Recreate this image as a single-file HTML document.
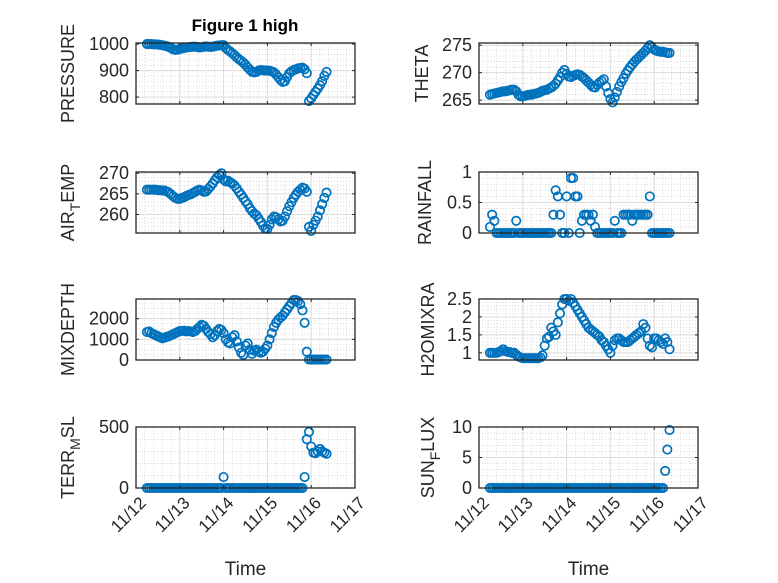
<!DOCTYPE html>
<html><head><meta charset="utf-8"><style>
html,body{margin:0;padding:0;background:#fff;}
svg{display:block;font-family:"Liberation Sans",sans-serif;}
</style></head><body>
<svg id="fig" width="778" height="583" viewBox="0 0 778 583" xmlns="http://www.w3.org/2000/svg">
<rect width="778" height="583" fill="#fff"/>
<text x="245" y="31" text-anchor="middle" font-size="17" font-weight="bold" fill="#000">Figure 1 high</text>
</svg>
<script>
const times=[12.25,12.30,12.35,12.40,12.45,12.50,12.55,12.60,12.65,12.70,12.75,12.80,12.85,12.90,12.95,13.00,13.05,13.10,13.15,13.20,13.25,13.30,13.35,13.40,13.45,13.50,13.55,13.60,13.65,13.70,13.75,13.80,13.85,13.90,13.95,14.00,14.05,14.10,14.15,14.20,14.25,14.30,14.35,14.40,14.45,14.50,14.55,14.60,14.65,14.70,14.75,14.80,14.85,14.90,14.95,15.00,15.05,15.10,15.15,15.20,15.25,15.30,15.35,15.40,15.45,15.50,15.55,15.60,15.65,15.70,15.75,15.80,15.85,15.90,15.95,16.00,16.05,16.10,16.15,16.20,16.25,16.30,16.35];
const pressure=[1000,1000,1000,999,999,998,997,996,994,992,989,985,980,978,979,981,983,985,987,988,989,990,990,989,987,988,990,991,990,989,990,992,994,995,996,996,985,978,972,965,958,950,943,937,930,922,912,903,895,893,895,900,902,901,900,900,899,897,893,885,875,865,857,860,875,890,897,902,905,908,910,911,905,890,785,795,808,820,832,845,860,880,895];
const theta=[266.0,266.1,266.2,266.3,266.4,266.5,266.6,266.6,266.7,266.8,266.9,266.9,266.6,266.0,265.7,265.7,265.8,265.9,266.0,266.0,266.1,266.2,266.3,266.5,266.7,266.8,266.9,267.1,267.3,267.6,268.0,268.6,269.2,270.0,270.5,269.8,269.3,269.2,269.4,269.6,269.7,269.6,269.3,269.0,268.6,268.2,267.8,267.4,267.3,267.8,268.2,268.5,268.8,267.5,266.3,265.2,264.6,265.5,266.5,267.5,268.3,269.0,269.8,270.4,271.0,271.5,272.0,272.4,272.8,273.2,273.6,274.0,274.5,275.0,274.6,274.2,274.0,273.9,273.8,273.8,273.7,273.6,273.6];
const airTemp=[266.0,266.0,266.0,266.0,266.0,265.9,265.9,265.8,265.8,265.6,265.3,264.9,264.4,264.0,263.8,263.8,264.0,264.2,264.5,264.7,264.9,265.2,265.5,265.8,266.0,265.8,265.5,265.6,266.2,266.8,267.5,268.3,269.0,269.6,270.0,268.5,268.0,268.2,267.8,267.5,267.0,266.3,265.5,264.8,264.0,263.2,262.5,261.5,260.8,260.2,259.8,259.0,258.2,257.3,256.6,256.5,257.5,258.8,259.5,259.3,258.8,258.3,258.5,259.5,260.8,262.0,263.0,264.0,264.8,265.5,266.0,266.5,266.3,265.5,257.0,256.0,257.5,258.5,259.5,261.0,262.5,264.0,265.3];
const rainfall=[0.1,0.3,0.2,0,0,0,0,0,0,0,0,0,0.2,0,0,0,0,0,0,0,0,0,0,0,0,0,0,0,0,0.3,0.7,0.6,0.3,0,0,0.6,0,0.9,0.9,0.6,0.6,0,0.2,0.3,0.3,0.3,0.2,0.3,0.1,0,0,0,0,0,0,0,0,0.2,0,0,0,0.3,0.3,0.3,0.3,0.2,0.3,0.3,0.3,0.3,0.3,0.3,0.3,0.6,0,0,0,0,0,0,0,0,0];
const mixDepth=[1350,1380,1300,1250,1200,1150,1100,1050,1080,1120,1150,1200,1250,1300,1350,1400,1400,1420,1380,1400,1380,1350,1400,1500,1600,1700,1650,1500,1350,1250,1100,1200,1400,1500,1450,1300,1000,850,800,1100,1200,900,600,350,250,700,800,500,300,450,500,400,350,400,550,700,1000,1300,1600,1800,1950,2050,2150,2300,2450,2600,2750,2900,2900,2850,2700,2400,1800,400,20,20,20,20,20,20,20,20,20];
const h2oMix=[1.0,1.0,1.0,1.0,1.02,1.05,1.1,1.05,1.03,1.02,1.0,1.0,0.95,0.9,0.87,0.85,0.85,0.85,0.85,0.85,0.85,0.85,0.85,0.87,0.93,1.2,1.4,1.45,1.7,1.6,1.5,1.85,2.1,2.35,2.5,2.5,2.45,2.5,2.4,2.3,2.2,2.1,2.0,1.9,1.8,1.7,1.65,1.6,1.55,1.5,1.45,1.35,1.3,1.2,1.1,1.0,1.2,1.35,1.4,1.4,1.35,1.3,1.3,1.3,1.35,1.4,1.45,1.5,1.55,1.6,1.8,1.7,1.4,1.2,1.15,1.4,1.4,1.35,1.3,1.25,1.4,1.3,1.1];
const terrMsl=[0,0,0,0,0,0,0,0,0,0,0,0,0,0,0,0,0,0,0,0,0,0,0,0,0,0,0,0,0,0,0,0,0,0,0,90,0,0,0,0,0,0,0,0,0,0,0,0,0,0,0,0,0,0,0,0,0,0,0,0,0,0,0,0,0,0,0,0,0,0,0,0,90,400,460,340,290,285,300,320,300,290,280];
const sunFlux=[0,0,0,0,0,0,0,0,0,0,0,0,0,0,0,0,0,0,0,0,0,0,0,0,0,0,0,0,0,0,0,0,0,0,0,0,0,0,0,0,0,0,0,0,0,0,0,0,0,0,0,0,0,0,0,0,0,0,0,0,0,0,0,0,0,0,0,0,0,0,0,0,0,0,0,0,0,0,0,0,2.8,6.3,9.5];
const xTickValues=[12,13,14,15,16,17];
const xTickLabels=["11/12","11/13","11/14","11/15","11/16","11/17"];

const NS="http://www.w3.org/2000/svg";
const svg=document.getElementById('fig');
function mk(tag,attrs,parent){const e=document.createElementNS(NS,tag);for(const k in attrs)e.setAttribute(k,attrs[k]);(parent||svg).appendChild(e);return e;}

const panels=[
 {name:'pressure',vals:pressure,x:136,y:43,ymin:774,ymax:1004,ticks:[800,900,1000],minor:20,label:[['PRESSURE']],lx:68},
 {name:'theta',vals:theta,x:479,y:43,ymin:264.3,ymax:275.4,ticks:[265,270,275],minor:1,label:[['THETA']],lx:422},
 {name:'air-temp',vals:airTemp,x:136,y:172,ymin:255.5,ymax:270.3,ticks:[260,265,270],minor:1,label:[['AIR'],['T','sub'],['EMP']],lx:68},
 {name:'rainfall',vals:rainfall,x:479,y:172,ymin:0,ymax:1,ticks:[0,0.5,1],minor:0.1,label:[['RAINFALL']],lx:425},
 {name:'mixdepth',vals:mixDepth,x:136,y:299,ymin:0,ymax:2950,ticks:[0,1000,2000],minor:250,label:[['MIXDEPTH']],lx:68},
 {name:'h2omixra',vals:h2oMix,x:479,y:299,ymin:0.8,ymax:2.5,ticks:[1,1.5,2,2.5],minor:0.1,label:[['H2OMIXRA']],lx:428},
 {name:'terr-msl',vals:terrMsl,x:136,y:427,ymin:0,ymax:500,ticks:[0,500],minor:100,label:[['TERR'],['M','sub'],['SL']],lx:68},
 {name:'sun-flux',vals:sunFlux,x:479,y:427,ymin:0,ymax:10,ticks:[0,5,10],minor:1,label:[['SUN'],['F','sub'],['LUX']],lx:428}
];
const W=219,H=61,XMIN=12,XMAX=17;

panels.forEach((p,pi)=>{
 const g=mk('g',{});
 
 
 const xs=v=>p.x+(v-XMIN)/(XMAX-XMIN)*W;
 const ys=v=>p.y+H-(v-p.ymin)/(p.ymax-p.ymin)*H;
 for(let d=XMIN;d<XMAX;d++){for(let k=1;k<5;k++){const X=xs(d+k*0.2);mk('line',{x1:X,x2:X,y1:p.y,y2:p.y+H,stroke:'#c4c4c4','stroke-width':0.6,'stroke-dasharray':'1,2'},g);}}
 const m0=Math.ceil(p.ymin/p.minor);
 for(let k=m0;k*p.minor<=p.ymax;k++){const v=k*p.minor;const Y=ys(v);mk('line',{x1:p.x,x2:p.x+W,y1:Y,y2:Y,stroke:'#c4c4c4','stroke-width':0.6,'stroke-dasharray':'1,2'},g);}
 xTickValues.forEach(d=>{const X=xs(d);mk('line',{x1:X,x2:X,y1:p.y,y2:p.y+H,stroke:'#dcdcdc','stroke-width':1},g);});
 p.ticks.forEach(v=>{const Y=ys(v);mk('line',{x1:p.x,x2:p.x+W,y1:Y,y2:Y,stroke:'#dcdcdc','stroke-width':1},g);});
 p.vals.forEach((v,i)=>{
  const c=mk('circle',{cx:xs(times[i]).toFixed(2),cy:ys(v).toFixed(2),r:4.2,fill:'none',stroke:'#0072BD','stroke-width':1.7},g);
  
  
 });
 const b=mk('rect',{x:p.x,y:p.y,width:W,height:H,fill:'none',stroke:'#262626','stroke-width':1.3},g);
 
 
 xTickValues.forEach(d=>{const X=xs(d);mk('line',{x1:X,x2:X,y1:p.y+H,y2:p.y+H-3,stroke:'#262626','stroke-width':1},g);mk('line',{x1:X,x2:X,y1:p.y,y2:p.y+3,stroke:'#262626','stroke-width':1},g);});
 p.ticks.forEach(v=>{const Y=ys(v);mk('line',{x1:p.x,x2:p.x+3,y1:Y,y2:Y,stroke:'#262626','stroke-width':1},g);mk('line',{x1:p.x+W,x2:p.x+W-3,y1:Y,y2:Y,stroke:'#262626','stroke-width':1},g);
  const t=mk('text',{x:p.x-7,y:Y+6,'text-anchor':'end','font-size':18,fill:'#262626'},g);
  
  
  t.textContent=String(v);
 });
 const cy=p.y+H/2;
 const yl=mk('text',{x:0,y:0,'text-anchor':'middle','font-size':18,fill:'#262626',transform:`translate(${p.lx+6},${cy}) rotate(-90)`},g);
 
 
 p.label.forEach(part=>{const ts=mk('tspan',{},yl);ts.textContent=part[0];if(part[1]==='sub'){ts.setAttribute('dy','6');ts.setAttribute('font-size','14');}else if(yl.childNodes.length>1){ts.setAttribute('dy','-6');}});
 if(pi>=6){
  xTickValues.forEach((d,i)=>{const X=xs(d);
   const t=mk('text',{x:0,y:0,'text-anchor':'end','font-size':17,fill:'#262626',transform:`translate(${X+11},${p.y+H+16}) rotate(-45)`},g);
   
   
   t.textContent=xTickLabels[i];
  });
  const xl=mk('text',{x:p.x+W/2,y:575,'text-anchor':'middle','font-size':19,fill:'#262626'},g);
  
  
  xl.textContent='Time';
 }
});
</script>
</body></html>
